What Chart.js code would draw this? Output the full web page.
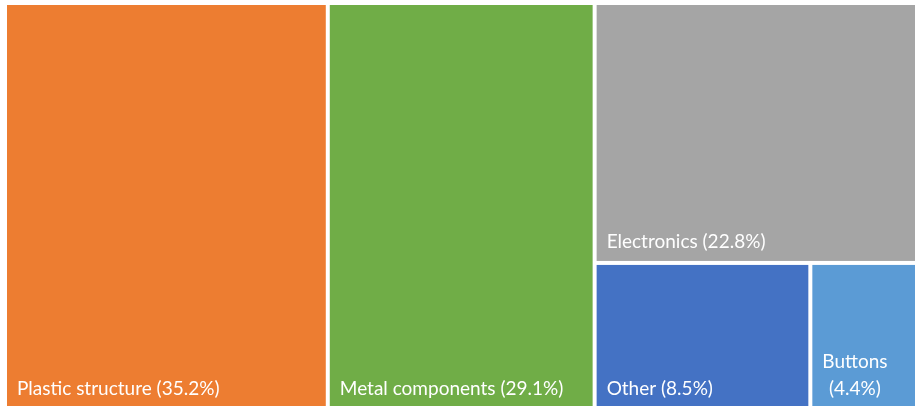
<!DOCTYPE html>
<html>
<head>
<meta charset="utf-8">
<script src="https://cdn.jsdelivr.net/npm/chart.js@4.4.1/dist/chart.umd.min.js"></script>
<style>
  html, body { margin: 0; padding: 0; background: #fff; overflow: hidden; }
  #wrap { position: absolute; left: 0; top: 0; width: 922px; height: 410px; }
</style>
</head>
<body>
<div id="wrap"><canvas id="treemap"></canvas></div>
<script>
// ── Datos ─────────────────────────────────────
const categorias = ['Plastic structure', 'Metal components', 'Electronics', 'Other', 'Buttons']
const porcentajes = [35.2, 29.1, 22.8, 8.5, 4.4]
const colores = ['#ED7D31', '#70AD47', '#A5A5A5', '#4472C4', '#5B9BD5']

// ── Squarified treemap (en unidades de ejes 0..100) ──
function peor(fila, lado) {
  const s = fila.reduce((a, b) => a + b.area, 0)
  let max = 0
  fila.forEach(f => {
    const r = Math.max((lado * lado * f.area) / (s * s), (s * s) / (lado * lado * f.area))
    if (r > max) max = r
  })
  return max
}

function squarify(items, x, y, w, h, salida) {
  if (!items.length) return
  const lado = Math.min(w, h)
  let fila = [items[0]]
  let i = 1
  while (i < items.length && peor([...fila, items[i]], lado) <= peor(fila, lado)) {
    fila.push(items[i]); i++
  }
  const s = fila.reduce((a, b) => a + b.area, 0)
  if (w >= h) {
    // columna a la izquierda
    const cw = s / h
    let cy = y
    fila.forEach(f => { const ch = f.area / cw; salida.push({ ...f, x, y: cy, w: cw, h: ch }); cy += ch })
    squarify(items.slice(i), x + cw, y, w - cw, h, salida)
  } else {
    // fila arriba
    const ch = s / w
    let cx = x
    fila.forEach(f => { const cw = f.area / ch; salida.push({ ...f, x: cx, y, w: cw, h: ch }); cx += cw })
    squarify(items.slice(i), x, y + ch, w, h - ch, salida)
  }
}

// ── Plugin que dibuja las celdas con las escalas del chart ──
const GAP = 2
const PAD = 10

const treemapPlugin = {
  id: 'treemap',
  afterDraw(chart) {
    const { ctx, chartArea: area, scales: { x: sx, y: sy } } = chart
    const aspecto = area.width / area.height
    const total = porcentajes.reduce((a, b) => a + b, 0)
    const items = categorias.map((c, i) => ({
      label: c, valor: porcentajes[i], color: colores[i],
      area: porcentajes[i] / total * aspecto
    }))
    const celdas = []
    squarify(items, 0, 0, aspecto, 1, celdas)

    ctx.save()
    celdas.forEach(c => {
      const x0 = sx.getPixelForValue(c.x / aspecto * 100) + GAP
      const x1 = sx.getPixelForValue((c.x + c.w) / aspecto * 100) - GAP
      const y0 = sy.getPixelForValue(c.y * 100) + GAP
      const y1 = sy.getPixelForValue((c.y + c.h) * 100) - GAP
      ctx.fillStyle = c.color
      ctx.fillRect(x0, y0, x1 - x0, y1 - y0)

      // etiqueta abajo a la izquierda
      ctx.fillStyle = '#fff'
      ctx.font = "19px Lato, 'Open Sans', sans-serif"
      ctx.textBaseline = 'alphabetic'
      const texto = `${c.label} (${c.valor.toFixed(1)}%)`
      const base = y1 - 13
      if (ctx.measureText(texto).width <= (x1 - x0) - 2 * PAD) {
        ctx.textAlign = 'left'
        ctx.fillText(texto, x0 + PAD, base)
      } else {
        const lineas = [c.label, `(${c.valor.toFixed(1)}%)`]
        const ancho = Math.max(...lineas.map(l => ctx.measureText(l).width))
        ctx.textAlign = 'center'
        lineas.forEach((l, k) => {
          ctx.fillText(l, x0 + PAD + ancho / 2, base - (lineas.length - 1 - k) * 27)
        })
      }
    })
    ctx.restore()
  }
}

new Chart(document.getElementById('treemap'), {
  type: 'scatter',
  data: { datasets: [] },
  options: {
    responsive: true,
    maintainAspectRatio: false,
    animation: false,
    layout: { padding: { left: 5, top: 3, right: 0, bottom: 0 } },
    plugins: { legend: { display: false }, tooltip: { enabled: false } },
    scales: {
      x: { type: 'linear', min: 0, max: 100, display: false },
      y: { type: 'linear', min: 0, max: 100, reverse: true, display: false }
    }
  },
  plugins: [treemapPlugin]
})
</script>
</body>
</html>
